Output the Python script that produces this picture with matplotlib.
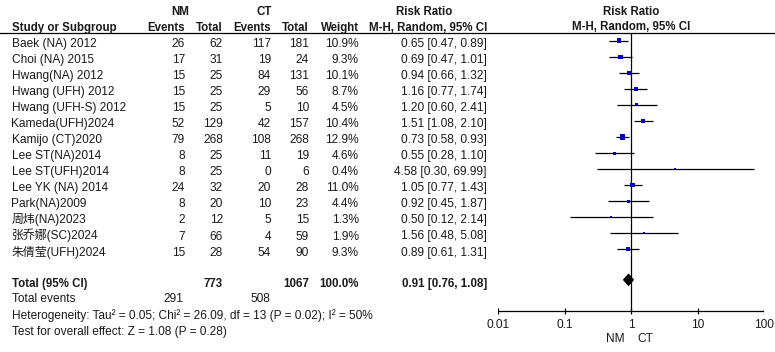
import matplotlib
matplotlib.use("Agg")
import matplotlib.pyplot as plt
import numpy as np

# ---------------- data ----------------
studies = ["Baek (NA) 2012", "Choi (NA) 2015", "Hwang(NA) 2012", "Hwang (UFH) 2012",
           "Hwang (UFH-S) 2012", "Kameda(UFH)2024", "Kamijo (CT)2020", "Lee ST(NA)2014",
           "Lee ST(UFH)2014", "Lee YK (NA) 2014", "Park(NA)2009", "周炜(NA)2023",
           "张乔娜(SC)2024", "朱倩莹(UFH)2024"]
nm_events = [26, 17, 15, 15, 15, 52, 79, 8, 8, 24, 8, 2, 7, 15]
nm_total = [62, 31, 25, 25, 25, 129, 268, 25, 25, 32, 20, 12, 66, 28]
ct_events = [117, 19, 84, 29, 5, 42, 108, 11, 0, 20, 10, 5, 4, 54]
ct_total = [181, 24, 131, 56, 10, 157, 268, 19, 6, 28, 23, 15, 59, 90]
weights = [10.9, 9.3, 10.1, 8.7, 4.5, 10.4, 12.9, 4.6, 0.4, 11.0, 4.4, 1.3, 1.9, 9.3]
rr = [0.65, 0.69, 0.94, 1.16, 1.20, 1.51, 0.73, 0.55, 4.58, 1.05, 0.92, 0.50, 1.56, 0.89]
ci_lo = [0.47, 0.47, 0.66, 0.77, 0.60, 1.08, 0.58, 0.28, 0.30, 0.77, 0.45, 0.12, 0.48, 0.61]
ci_hi = [0.89, 1.01, 1.32, 1.74, 2.41, 2.10, 0.93, 1.10, 69.99, 1.43, 1.87, 2.14, 5.08, 1.31]

total_nm, total_ct = 773, 1067
events_nm, events_ct = 291, 508
pooled_rr, pooled_lo, pooled_hi = 0.91, 0.76, 1.08
heterogeneity = "Heterogeneity: Tau² = 0.05; Chi² = 26.09, df = 13 (P = 0.02); I² = 50%"
overall = "Test for overall effect: Z = 1.08 (P = 0.28)"
xticks = [0.01, 0.1, 1, 10, 100]
xticklabels = ["0.01", "0.1", "1", "10", "100"]

# ---------------- style ----------------
FAM = ["Liberation Sans", "Noto Sans CJK SC", "DejaVu Sans"]
plt.rcParams["font.family"] = FAM
FS = 8.6
TXT = "#1a1a1a"
BLUE = "#0000c8"

W, H = 775, 352
fig = plt.figure(figsize=(W / 100, H / 100), dpi=100)
fig.patch.set_facecolor("white")

tax = fig.add_axes([0, 0, 1, 1])
tax.set_xlim(0, W)
tax.set_ylim(H, 0)
tax.axis("off")

X0, X1 = 498.3, 764.3
fax = fig.add_axes([X0 / W, 0, (X1 - X0) / W, 1])
fax.set_xscale("log")
fax.set_xlim(0.01, 100)
fax.set_ylim(H, 0)
fax.axis("off")
fax.patch.set_alpha(0)

def t(x, y, s, ha="left", bold=False, size=FS):
    tax.text(x, y, s, ha=ha, va="baseline", fontsize=size, color=TXT,
             fontweight="bold" if bold else "normal", family=FAM)

# headers
t(180.5, 15, "NM", ha="center", bold=True, size=8.3)
t(264, 15, "CT", ha="center", bold=True, size=8.3)
t(424, 15, "Risk Ratio", ha="center", bold=True, size=8.3)
t(11.5, 30.7, "Study or Subgroup", bold=True, size=8.3)
t(185, 30.7, "Events", ha="right", bold=True, size=8.3)
t(223, 30.7, "Total", ha="right", bold=True, size=8.3)
t(271, 30.7, "Events", ha="right", bold=True, size=8.3)
t(309, 30.7, "Total", ha="right", bold=True, size=8.3)
t(359, 30.7, "Weight", ha="right", bold=True, size=8.3)
t(487, 30.7, "M-H, Random, 95% CI", ha="right", bold=True, size=8.3)
tax.axhline(32.5, color="black", lw=0.9)

# forest header (centred on RR = 1)
fax.text(1, 15, "Risk Ratio", ha="center", va="baseline", fontsize=8.3,
         fontweight="bold", color=TXT)
fax.text(1, 30.3, "M-H, Random, 95% CI", ha="center", va="baseline", fontsize=8.3,
         fontweight="bold", color=TXT)

# study rows
ROW0, STEP = 40.7, 16.05
ymark = ROW0 + STEP * np.arange(len(studies))
ybase = ymark + 6.2
for i, name in enumerate(studies):
    yb = ybase[i]
    t(11.5, yb, name)
    t(185, yb, str(nm_events[i]), ha="right")
    t(223, yb, str(nm_total[i]), ha="right")
    t(271, yb, str(ct_events[i]), ha="right")
    t(309, yb, str(ct_total[i]), ha="right")
    t(359, yb, f"{weights[i]:.1f}%", ha="right")
    t(487, yb, f"{rr[i]:.2f} [{ci_lo[i]:.2f}, {ci_hi[i]:.2f}]", ha="right")

# totals
t(11.5, 286.7, "Total (95% CI)", bold=True, size=8.3)
t(223, 286.7, str(total_nm), ha="right", bold=True, size=8.3)
t(309, 286.7, str(total_ct), ha="right", bold=True, size=8.3)
t(359, 286.7, "100.0%", ha="right", bold=True, size=8.3)
t(487, 286.7, f"{pooled_rr:.2f} [{pooled_lo:.2f}, {pooled_hi:.2f}]", ha="right", bold=True, size=8.3)
t(11.5, 302.3, "Total events")
t(183, 302.3, str(events_nm), ha="right")
t(270, 302.3, str(events_ct), ha="right")
t(11.5, 318.5, heterogeneity)
t(11.5, 334.7, overall)

# forest plot
AXY = 311
fax.vlines(1, 32.5, AXY, color="black", lw=0.9)
fax.hlines(ymark, ci_lo, ci_hi, color="black", lw=0.9)
side_px = np.maximum(2.2, 1.4 * np.sqrt(np.array(weights)))
fax.scatter(rr, ymark, marker="s", s=(side_px * 0.72) ** 2, color=BLUE,
            linewidths=0, zorder=3)
yd = 279.8
fax.fill([pooled_lo, pooled_rr, pooled_hi, pooled_rr], [yd, yd - 5.8, yd, yd + 5.8],
         color="black", lw=0.6, zorder=3)

# x axis
fax.hlines(AXY, xticks[0], xticks[-1], color="black", lw=0.9)
fax.vlines(xticks, AXY - 3, AXY + 3, color="black", lw=0.9)
for xv, lab in zip(xticks, xticklabels):
    fax.text(xv, 327.5, lab, ha="center", va="baseline", fontsize=FS, color=TXT)
fax.text(0.8, 342.5, "NM", ha="right", va="baseline", fontsize=FS, color=TXT)
fax.text(1.25, 342.5, "CT", ha="left", va="baseline", fontsize=FS, color=TXT)

fig.savefig("out.png", dpi=100, facecolor="white")
